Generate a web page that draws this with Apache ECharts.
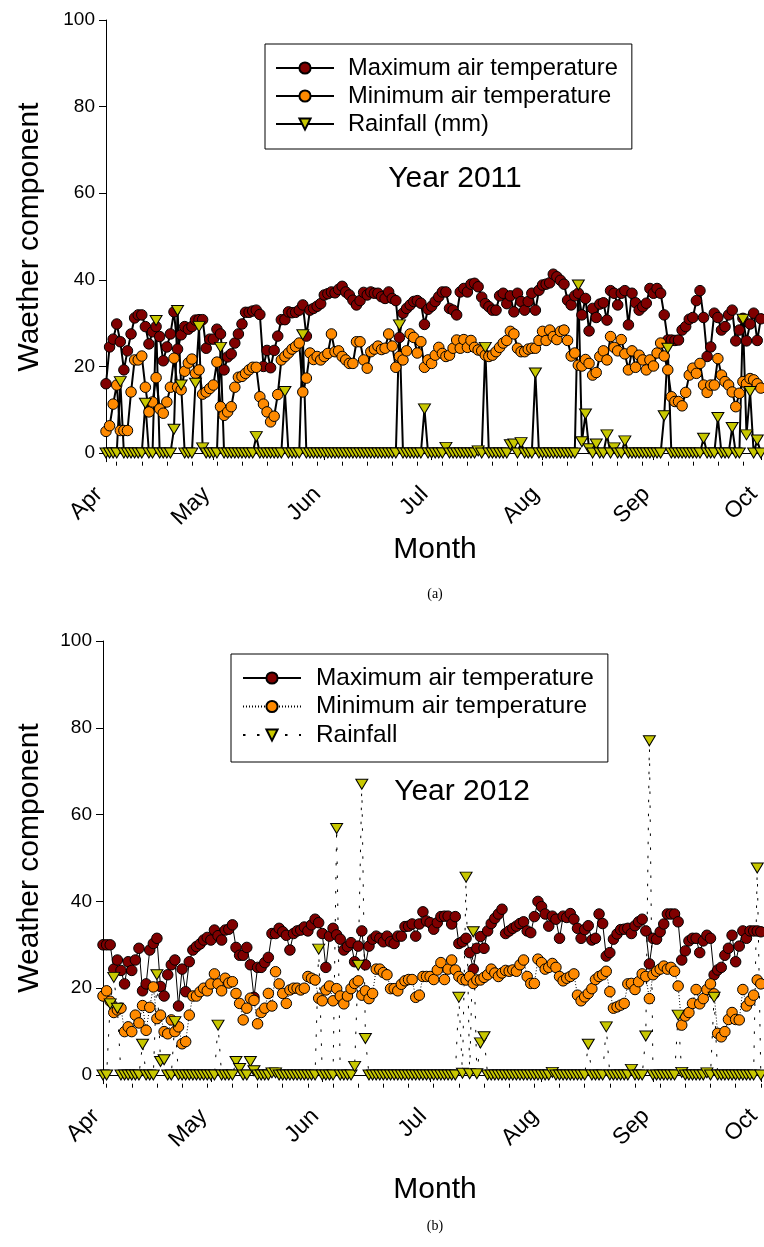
<!DOCTYPE html>
<html><head><meta charset="utf-8">
<script src="https://cdn.jsdelivr.net/npm/echarts@6/dist/echarts.min.js"></script>
<style>html,body{margin:0;padding:0;background:#fff}#c{width:764px;height:1247px}</style>
</head><body><div id="c"></div>
<script>
// ---- axis / tick labels ----
const monthDays = [0, 30, 61, 91, 122, 153, 183];
const monthLabels = ['Apr', 'May', 'Jun', 'Jul', 'Aug', 'Sep', 'Oct'];
const yTicks = [0, 20, 40, 60, 80, 100];
const weekTicks2011 = [3,10,17,24,31,38,45,52,59,66,73,80,87,94,101,108,115,122,129,136,143,150,157,164,171,178];
const weekTicks2012 = [1,8,15,22,29,36,43,50,57,64,71,78,85,92,99,106,113,120,127,134,141,148,155,162,169,176,183];

// ---- 2011 (day 0 = 1 April) ----
const maxT2011 = [
16,24.5,26.3,29.8,25.7,19.2,23.6,27.5,31.2,31.9,
31.9,29.2,25.2,28,29.2,26.9,21.3,24.5,27.5,32.6,
24,27.3,29.2,28.6,29.2,30.7,30.8,30.8,24.2,26.3,
26.3,28.6,27.5,19.2,22.2,22.9,25.4,27.5,29.8,32.5,
32.5,32.8,33,32,20,23.7,19.7,23.7,27,30.8,
30.8,32.6,32.4,32.5,33,34.2,27,33,33.4,33.9,
34.5,36.5,36.8,37.2,37,37.8,38.5,37.2,36.5,35.3,
34.2,35.2,37.1,36.5,37.2,36.9,36.9,36.1,35.7,37.2,
35.7,35.2,26.7,32.3,33.4,34.2,35,35.2,34.6,29.7,
33.2,33.9,35,36.1,37.2,37.2,33.4,33,31.9,37.2,
38,37.2,39,39.2,38.4,36,34.5,33.8,33,33,
36.3,36.9,34.5,36.3,32.6,36.9,35,33,35,36.9,
33,37.6,38.8,39,39.3,41.3,40.7,39.9,39,35.3,
34.2,36.3,36.9,31.9,35.7,28.2,33.4,31.3,34.4,34.7,
30.7,37.5,36.9,34.2,36.9,37.5,29.6,36.9,34.7,33,
33.8,34.6,38,36.9,38,36.9,31.9,26.1,26.1,26,
26.1,28.4,29.2,30.9,31.3,35.2,37.5,31.3,22.3,24.5,
32.3,31.3,28.4,29.2,31.9,33,25.9,28.4,31.1,25.9,
29.8,32.3,26,31];
const minT2011 = [
5,6.3,11.3,15.7,5.2,5.2,5.2,14.1,21.5,21.5,
22.4,15.2,9.5,11.8,17.4,10.2,9.2,11.8,15.2,21.9,
15.2,14.6,18.9,20.8,21.7,18.4,19.2,13.6,14.1,14.9,
15.7,21,10.7,8.7,9.5,10.7,15.2,17.5,17.7,18.4,
19.2,19.8,19.8,13,11.3,9.5,7.2,8.5,13.5,21.5,
22.3,23.1,24,24.6,25.4,14.1,17.3,23.1,21.6,22.3,
21.5,22.3,23,27.5,23.4,23.6,22.3,21.5,20.7,20.7,
25.7,25.7,21.5,19.6,23.4,24,24.7,23.9,24.2,27.5,
24.7,19.8,22.3,21.5,23.6,27.5,26.7,23.1,25.7,19.8,
21.5,20.7,22.6,24.4,23,22.3,22.6,24.2,26.1,24.2,
26.2,24.4,26,24.4,23.8,23.6,22.6,22.3,22.6,23.4,
24.4,25.4,26,28.1,27.5,24.2,23.4,23.4,24,24.2,
24.2,26,28.1,26,28.4,26.9,26.2,28.1,28.4,26,
22.4,23.1,20.3,20.1,21.6,20.7,18,18.6,22.3,23.6,
21.5,26.9,24.4,23.6,26.2,22.9,19.2,23.6,19.8,22.6,
21.5,19.2,21.5,20.1,23.1,25.4,22.4,19.2,13,11.9,
11.9,10.9,14,18,19.6,18.4,20.7,15.7,14,15.7,
15.7,21.8,18,16.5,15.7,14.1,10.7,13.8,16.5,16,
17.2,16.9,16,15];
const rain2011 = [
0,0,0,0,16.5,0,0,0,0,0,
0,11.5,0,0,30.6,0,0,0,0,5.5,
32.9,15.7,0,0,0,16.1,29.2,1.2,0,0,
0,0,24.4,0,0,0,0,0,0,0,
0,0,3.8,0,0,0,0,0,0,0,
14.2,0,0,0,0,27.3,0,0,0,0,
0,0,0,0,0,0,0,0,0,0,
0,0,0,0,0,0,0,0,0,0,
0,0,29.6,0,0,0,0,0,0,10.2,
0,0,0,0,0,1.3,0,0,0,0,
0,0,0,0,0.5,0,24.4,0,0,0,
0,0,0,1.9,2.1,0,2.4,0,0,0,
18.5,0,0,0,0,0,0,0,0,0,
0,0,38.8,2.6,9,1,0,2.1,0,0,
4.2,0,1.2,0,0,2.8,0,0,0,0,
0,0,0,0,0,0,8.6,24.2,0,0,
0,0,0,0,0,0,0,3.4,0,0,
0,8.2,0,0,0,5.9,0,0,30.9,4.2,
14.2,0,3,0];

// ---- 2012 (day 0 = 1 April) ----
const maxT2012 = [
30,30,30,24.4,26.5,24.1,21,26.1,24.1,26.5,
29.2,19.4,21,28.8,30.3,31.5,20.4,18.2,23.1,25.4,
26.5,15.9,24.4,19.2,26.1,28.8,29.6,30.2,31.1,31.7,
31.1,33.4,32.1,31.1,33.4,33.6,34.6,29.4,27.6,27.6,
29.4,25.4,17.9,24.8,24.8,25.9,27.1,32.6,32.6,33.8,
33,32.2,28.8,32.6,33.2,33.4,34.1,33.2,34.6,35.9,
35.1,32.6,24.8,32,33.8,32.3,31.3,28.8,29.6,30.5,
26.1,29.7,33.2,25.4,29.7,31.3,32,31.5,30.7,32,
30.7,30.3,32,32,34.2,34.3,34.8,32,34.8,37.6,
35.5,35.1,33.6,35.1,36.5,36.6,36.6,34.8,36.5,30.3,
30.7,31.5,28.2,24.4,29.2,31.9,29.2,33.2,34.9,36.1,
37.1,38.2,32.6,33.2,33.8,34.3,34.9,35.3,33.2,32.8,
36.5,40,38.8,37.1,34.3,36.6,35.9,31.5,36.6,36.3,
37.2,35.9,33.8,31.5,33.5,34.4,31.1,31.5,37.1,34.9,
27.4,28.2,31.3,32.5,33.5,33.6,33.8,32.6,34.4,35.3,
35.9,33.2,25.6,31.5,31.3,33,34.8,37.1,37.1,37.1,
35.3,26.5,28.6,30.9,31.5,31.5,28.2,30.9,32.2,31.5,
23.1,24.2,24.8,27.6,29.2,32.2,26.1,29.7,33.2,31.5,
33.2,33.2,33.2,33];
const minT2012 = [
18.2,19.4,17,14.4,15,15.4,10,11.1,10,13.8,
12,16,10.3,15.6,20.3,13,13.8,10,9.5,12.7,
10,11.1,7.2,7.7,13.8,18.2,18.2,19.2,20,19.4,
21,23.3,21,19.4,22.3,21.2,21.5,18.8,16.5,12.7,
15.4,17.7,17.2,11.8,14.4,15.4,18.8,15.9,23.8,21,
18.8,16.5,19.6,20,20,19.6,20,22.7,22.3,21.9,
17.7,17.1,19.6,20.5,17.1,19.9,18.2,16.4,18.2,19.9,
21.1,21.7,18.4,19.4,17.6,18.8,24.4,24.4,23.6,23.1,
19.9,19.9,19.4,20.9,21.7,22,22,17.9,18.4,22.7,
22.7,22.7,22,24.2,25.9,22,24.4,26.5,24.2,22.7,
22,21.9,22.7,21.1,21.9,21.9,22.5,23.1,24.4,23.5,
22.7,23.5,24.1,23.9,24.2,23.9,25.4,26.5,22.7,21.1,
21.1,26.7,25.9,24.4,24.8,25.7,24.8,22.7,21.7,22.3,
22.7,23.3,18.4,17.1,18,18.8,19.9,22,22.7,23.1,
23.9,19.2,15.4,15.7,16.1,16.5,21,21.1,19.7,21.5,
23.3,22.7,17.6,23.1,23.9,24.4,25.1,24.4,24.8,23.9,
20.5,11.5,13.6,14.4,16.5,19.7,16.4,17.6,19.7,21,
18.7,9.6,8.8,10,12.8,14.4,12.8,12.7,19.7,15.9,
17.1,18.4,21.9,21];
const rain2012 = [
0,0,16.4,22.5,15.4,0,0,0,0,0,
0,7.1,0,0,0,23.1,3.1,3.5,0,0,
12.3,0,0,0,0,0,0,0,0,0,
0,0,11.5,0,0,0,0,3.1,1.5,0,
0,3.1,1,0,0,0,0,0.5,0.5,0,
0,0,0,0,0,0,0,0,0,0,
29,0,0,0,0,56.8,0,0,0,0,
2,25.3,67,8.4,0,0,0,0,0,0,
0,0,0,0,0,0,0,0,0,0,
0,0,0,0,0,0,0,0,0,17.9,
0.4,45.6,0.3,33,0.3,7.4,8.8,0,0,0,
0,0,0,0,0,0,0,0,0,0,
0,0,0,0,0,0.6,0,0,0,0,
0,0,0,0,0,7.1,0,0,0,0,
11.1,0,0,0,0,0,0,1.3,0,0,
0,9,77,0,0,0,0,0,0,0,
13.8,0.6,0,0,0,0,0,0,0.5,0,
17.9,0,0,0,0,0,0,0,0,0,
0,0,47.7,0];

const nameMax = 'Maximum air temperature';
const nameMin = 'Minimum air temperature';
const SUF = ' \u00a02012';
const FONT = "'Liberation Sans', Arial, Helvetica, sans-serif";
const C_MAX = '#800000', C_MIN = '#ff8a00', C_RAIN = '#c8c800';

const pairs = arr => arr.map((v, i) => [i, v]);

function mkSeries(name, arr, xi, yi, color, isTri, lineStyle) {
  return {
    name: name, type: 'line', xAxisIndex: xi, yAxisIndex: yi,
    data: pairs(arr), showSymbol: true, showAllSymbol: true,
    symbol: isTri ? 'triangle' : 'circle',
    symbolSize: isTri ? [12, 10] : 10.5,
    symbolRotate: isTri ? 180 : 0,
    itemStyle: { color: color, borderColor: '#000', borderWidth: 1 },
    lineStyle: lineStyle,
    emphasis: { disabled: true },
    animation: false
  };
}

function xAxisMain(gi) {
  return {
    gridIndex: gi, type: 'value', min: 0, max: 183, position: 'bottom',
    axisLine: { show: true, lineStyle: { color: '#000', width: 1 } },
    axisTick: { show: true, customValues: monthDays, length: 7, lineStyle: { color: '#000', width: 1 } },
    axisLabel: {
      customValues: monthDays,
      formatter: v => monthLabels[monthDays.indexOf(v)] || '',
      rotate: 45, margin: 22, padding: [0, 10, 0, 0],
      fontSize: 23, color: '#000', fontFamily: FONT
    },
    splitLine: { show: false }
  };
}
function xAxisMinor(gi, ticks) {
  return {
    gridIndex: gi, type: 'value', min: 0, max: 183, position: 'bottom',
    axisLine: { show: false },
    axisTick: { show: true, customValues: ticks, length: 4, lineStyle: { color: '#000', width: 1 } },
    axisLabel: { show: false },
    splitLine: { show: false }
  };
}
function yAxisDef(gi) {
  return {
    gridIndex: gi, type: 'value', min: -2, max: 100,
    axisLine: { show: true, lineStyle: { color: '#000', width: 1 } },
    axisTick: { show: true, customValues: yTicks, length: 7, lineStyle: { color: '#000', width: 1 } },
    axisLabel: { customValues: yTicks, fontSize: 19, color: '#000', margin: 11, fontFamily: FONT },
    splitLine: { show: false }
  };
}

const thick = { color: '#000', width: 2 };

const option = {
  backgroundColor: '#fff',
  animation: false,
  grid: [
    { left: 106, top: 20, width: 664, height: 441.7 },
    { left: 103, top: 641, width: 664, height: 442.7 }
  ],
  xAxis: [xAxisMain(0), xAxisMinor(0, weekTicks2011), xAxisMain(1), xAxisMinor(1, weekTicks2012)],
  yAxis: [yAxisDef(0), yAxisDef(1)],
  legend: [
    {
      data: [nameMax, nameMin, 'Rainfall (mm)'],
      orient: 'vertical', left: 265, top: 44,
      padding: [12, 14, 13, 10], itemWidth: 58, itemHeight: 14, itemGap: 4,
      borderColor: '#000', borderWidth: 1, backgroundColor: '#fff',
      selectedMode: false,
      textStyle: { fontSize: 23.7, color: '#000', fontFamily: FONT, padding: [0, 0, 0, 9] }
    },
    {
      data: [nameMax + SUF, nameMin + SUF, 'Rainfall'],
      formatter: n => n.replace(SUF, ''),
      orient: 'vertical', left: 231, top: 654,
      padding: [12, 14, 15, 11], itemWidth: 58, itemHeight: 14, itemGap: 4.5,
      borderColor: '#000', borderWidth: 1, backgroundColor: '#fff',
      selectedMode: false,
      textStyle: { fontSize: 24.4, color: '#000', fontFamily: FONT, padding: [0, 0, 0, 10] }
    }
  ],
  series: [
    mkSeries(nameMax, maxT2011, 0, 0, C_MAX, false, thick),
    mkSeries(nameMin, minT2011, 0, 0, C_MIN, false, thick),
    mkSeries('Rainfall (mm)', rain2011, 0, 0, C_RAIN, true, thick),
    mkSeries(nameMax + SUF, maxT2012, 2, 1, C_MAX, false, { color: '#000', width: 1 }),
    mkSeries(nameMin + SUF, minT2012, 2, 1, C_MIN, false, { color: '#000', width: 1, type: [1, 2] }),
    mkSeries('Rainfall', rain2012, 2, 1, C_RAIN, true, { color: '#000', width: 1, type: [2.5, 11.5] })
  ],
  graphic: [
    { type: 'text', x: 455, y: 178.5, style: { text: 'Year 2011', fontSize: 30, fontFamily: FONT, fill: '#000', align: 'center', verticalAlign: 'middle' } },
    { type: 'text', x: 462, y: 792, style: { text: 'Year 2012', fontSize: 30, fontFamily: FONT, fill: '#000', align: 'center', verticalAlign: 'middle' } },
    { type: 'text', x: 435, y: 550, style: { text: 'Month', fontSize: 30, fontFamily: FONT, fill: '#000', align: 'center', verticalAlign: 'middle' } },
    { type: 'text', x: 435, y: 1190, style: { text: 'Month', fontSize: 30, fontFamily: FONT, fill: '#000', align: 'center', verticalAlign: 'middle' } },
    { type: 'text', x: 30, y: 237, rotation: Math.PI / 2, style: { text: 'Waether component', fontSize: 30, fontFamily: FONT, fill: '#000', align: 'center', verticalAlign: 'middle' } },
    { type: 'text', x: 30, y: 858, rotation: Math.PI / 2, style: { text: 'Weather component', fontSize: 30, fontFamily: FONT, fill: '#000', align: 'center', verticalAlign: 'middle' } },
    { type: 'text', x: 435, y: 594, style: { text: '(a)', fontSize: 14, fontFamily: "'Liberation Serif', 'Times New Roman', serif", fill: '#000', align: 'center', verticalAlign: 'middle' } },
    { type: 'text', x: 435, y: 1226, style: { text: '(b)', fontSize: 14, fontFamily: "'Liberation Serif', 'Times New Roman', serif", fill: '#000', align: 'center', verticalAlign: 'middle' } }
  ]
};

const chart = echarts.init(document.getElementById('c'), null, { renderer: 'canvas' });
chart.setOption(option);
</script>
</body></html>
